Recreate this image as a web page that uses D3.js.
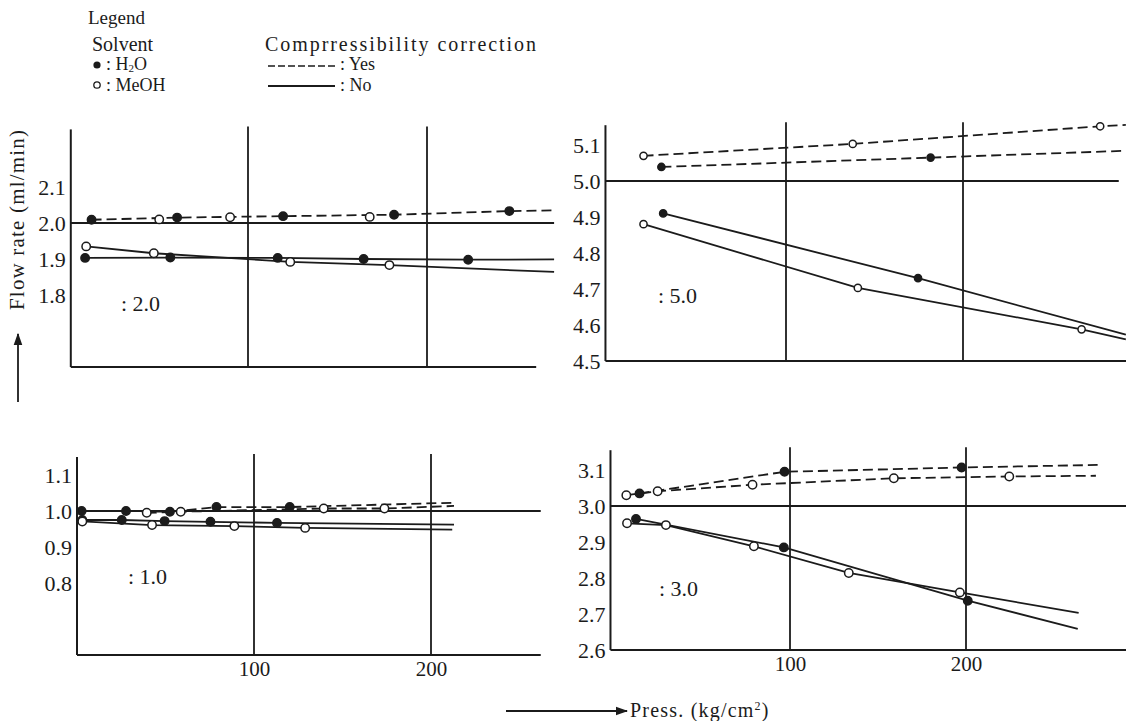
<!DOCTYPE html>
<html><head><meta charset="utf-8">
<script src="https://cdn.jsdelivr.net/npm/d3@7"></script>
<style>
body{margin:0;background:#fff}
svg{display:block}
text{font-family:"Liberation Serif","DejaVu Serif",serif;fill:#1b1b1b}
</style>
</head><body>
<svg id="c" width="1126" height="721"></svg>
<script>
// ---------- DATA ----------
const xTickValues = [100, 200];

// Panel ": 2.0"
const p20Ticks = [2.1, 2.0, 1.9, 1.8];
const p20H2OYes = [[12.6,2.009],[60.4,2.015],[119.6,2.019],[181.6,2.023],[246,2.033]];
const p20H2OYesEnd = [271,2.035];
const p20MeOHYes = [[50.4,2.010],[90,2.016],[168,2.017]];
const p20H2ONo = [[9,1.903],[56.6,1.904],[116.6,1.903],[164.6,1.900],[223,1.898]];
const p20H2ONoEnd = [271,1.899];
const p20MeOHNo = [[9.6,1.935],[47.4,1.916],[123.6,1.892],[179,1.883]];
const p20MeOHNoEnd = [271,1.864];

// Panel ": 5.0"
const p50Ticks = [5.1, 5.0, 4.9, 4.8, 4.7, 4.6, 4.5];
const p50MeOHYes = [[19.5,5.070],[137.7,5.103],[277.5,5.152]];
const p50MeOHYesEnd = [292,5.156];
const p50H2OYes = [[29.6,5.039],[181.7,5.065]];
const p50H2OYesEnd = [292,5.084];
const p50H2ONo = [[30.6,4.910],[174.6,4.730]];
const p50H2ONoEnd = [292,4.573];
const p50MeOHNo = [[19.5,4.880],[140.6,4.703],[267,4.588]];
const p50MeOHNoEnd = [292,4.560];

// Panel ": 1.0"
const p10Ticks = [1.1, 1.0, 0.9, 0.8];
const p10H2OYes = [[2.6,1.000],[27.7,1.000],[52.5,0.998],[78.8,1.011],[120.2,1.011]];
const p10H2OYesEnd = [213,1.023];
const p10MeOHYes = [[39.4,0.995],[58.6,0.998],[139.4,1.007],[173.7,1.007]];
const p10MeOHYesEnd = [213,1.014];
const p10H2ONo = [[3,0.975],[25.3,0.975],[49.5,0.972],[75.4,0.970],[113,0.967]];
const p10H2ONoEnd = [213,0.962];
const p10MeOHNo = [[3,0.971],[42.4,0.961],[88.9,0.958],[128.9,0.953]];
const p10MeOHNoEnd = [212,0.948];

// Panel ": 3.0"
const p30Ticks = [3.1, 3.0, 2.9, 2.8, 2.7, 2.6];
const p30MeOHYes = [[7,3.030],[24.8,3.041],[78.7,3.059],[159,3.077],[224.6,3.082]];
const p30MeOHYesEnd = [273.8,3.084];
const p30H2OYes = [[14.5,3.035],[96.9,3.095],[197.5,3.107]];
const p30H2OYesEnd = [274.8,3.114];
const p30H2ONo = [[12.5,2.964],[96.5,2.885],[201,2.737]];
const p30H2ONoEnd = [263.5,2.659];
const p30MeOHNo = [[7.4,2.952],[29.5,2.947],[79.5,2.888],[133.4,2.814],[196.5,2.760]];
const p30MeOHNoEnd = [264,2.703];

// ---------- LAYOUT ----------
const panels = [
  {label:": 2.0", ref:2.0, ticks:p20Ticks, xLabels:false,
   x0:69, k100:179, yRef:223, vTop:2.26, vBot:1.6, axisV:1, xEndV:261, refEndV:271,
   labelX:121, labelY:311,
   series:[
     {pts:p20H2OYes, end:p20H2OYesEnd, dash:true, filled:true},
     {pts:p20MeOHYes, end:null, dash:true, filled:false, noLine:true},
     {pts:p20H2ONo, end:p20H2ONoEnd, dash:false, filled:true},
     {pts:p20MeOHNo, end:p20MeOHNoEnd, dash:false, filled:false}]},
  {label:": 5.0", ref:5.0, ticks:p50Ticks, xLabels:false,
   x0:609, k100:177, yRef:181, vTop:5.155, vBot:4.5, axisV:-2, xEndV:295, refEndV:288,
   labelX:658, labelY:303, r:3.6,
   series:[
     {pts:p50MeOHYes, end:p50MeOHYesEnd, dash:true, filled:false},
     {pts:p50H2OYes, end:p50H2OYesEnd, dash:true, filled:true},
     {pts:p50H2ONo, end:p50H2ONoEnd, dash:false, filled:true},
     {pts:p50MeOHNo, end:p50MeOHNoEnd, dash:false, filled:false}]},
  {label:": 1.0", ref:1.0, ticks:p10Ticks, xLabels:true,
   x0:77, k100:177, yRef:511, vTop:1.15, vBot:0.6, axisV:0, xEndV:262, refEndV:262,
   labelX:128, labelY:584,
   series:[
     {pts:p10H2OYes, end:p10H2OYesEnd, dash:true, filled:true},
     {pts:p10MeOHYes, end:p10MeOHYesEnd, dash:true, filled:false},
     {pts:p10H2ONo, end:p10H2ONoEnd, dash:false, filled:true},
     {pts:p10MeOHNo, end:p10MeOHNoEnd, dash:false, filled:false}]},
  {label:": 3.0", ref:3.0, ticks:p30Ticks, xLabels:true,
   x0:614, k100:176, yRef:506, vTop:3.155, vBot:2.6, axisV:-2, xEndV:292, refEndV:292,
   labelX:659, labelY:596,
   series:[
     {pts:p30MeOHYes, end:p30MeOHYesEnd, dash:true, filled:false},
     {pts:p30H2OYes, end:p30H2OYesEnd, dash:true, filled:true},
     {pts:p30H2ONo, end:p30H2ONoEnd, dash:false, filled:true},
     {pts:p30MeOHNo, end:p30MeOHNoEnd, dash:false, filled:false}]}
];

const ink = "#1b1b1b";
const svg = d3.select("#c");

svg.append("defs").append("marker")
  .attr("id","arr").attr("viewBox","0 0 10 10").attr("refX",9).attr("refY",5)
  .attr("markerWidth",7).attr("markerHeight",7).attr("orient","auto")
  .append("path").attr("d","M0,1.5L10,5L0,8.5Z").attr("fill",ink);

panels.forEach(p => {
  const x = d3.scaleLinear().domain([0,100]).range([p.x0, p.x0 + p.k100]);
  const y = d3.scaleLinear().domain([p.ref, p.ref + 0.1]).range([p.yRef, p.yRef - 36]);
  const g = svg.append("g");
  const ax = x(p.axisV), yb = y(p.vBot), yt = y(p.vTop);

  g.append("line").attr("x1",ax).attr("x2",ax).attr("y1",yt).attr("y2",yb)
    .attr("stroke",ink).attr("stroke-width",2);
  g.append("line").attr("x1",ax).attr("x2",x(p.xEndV)).attr("y1",yb).attr("y2",yb)
    .attr("stroke",ink).attr("stroke-width",2);
  xTickValues.forEach(v => {
    g.append("line").attr("x1",x(v)).attr("x2",x(v)).attr("y1",yt - 3).attr("y2",yb)
      .attr("stroke",ink).attr("stroke-width",1.8);
  });
  g.append("line").attr("x1",ax).attr("x2",x(p.refEndV)).attr("y1",y(p.ref)).attr("y2",y(p.ref))
    .attr("stroke",ink).attr("stroke-width",1.8);

  const ya = g.append("g").attr("transform",`translate(${ax},0)`)
    .call(d3.axisLeft(y).tickValues(p.ticks).tickSize(0).tickPadding(5).tickFormat(d3.format(".1f")));
  ya.select(".domain").remove();
  ya.selectAll("text").attr("font-size",22).attr("font-family",null).attr("fill",ink);

  if (p.xLabels) {
    const xa = g.append("g").attr("transform",`translate(0,${yb})`)
      .call(d3.axisBottom(x).tickValues(xTickValues).tickSize(0).tickPadding(6).tickFormat(d3.format("d")));
    xa.select(".domain").remove();
    xa.selectAll("text").attr("font-size",21).attr("font-family",null).attr("fill",ink);
  }

  g.append("text").attr("x",p.labelX).attr("y",p.labelY).attr("font-size",22).text(p.label);

  const line = d3.line().x(d => x(d[0])).y(d => y(d[1]));
  p.series.forEach(s => {
    if (!s.noLine) {
      const data = s.end ? s.pts.concat([s.end]) : s.pts;
      g.append("path").attr("d", line(data)).attr("fill","none")
        .attr("stroke",ink).attr("stroke-width",1.8)
        .attr("stroke-dasharray", s.dash ? "10,5" : null);
    }
  });
  p.series.forEach(s => {
    g.selectAll(null).data(s.pts).enter().append("circle")
      .attr("cx", d => x(d[0])).attr("cy", d => y(d[1]))
      .attr("r", p.r || 4.2)
      .attr("fill", s.filled ? ink : "#fff")
      .attr("stroke", ink).attr("stroke-width", 1.5);
  });
});

// ---------- LEGEND ----------
const lg = svg.append("g");
lg.append("text").attr("x",88).attr("y",24).attr("font-size",19).text("Legend");
lg.append("text").attr("x",92).attr("y",51).attr("font-size",20).text("Solvent");
lg.append("text").attr("x",265).attr("y",51).attr("font-size",20).attr("textLength",271).text("Comprressibility correction");
lg.append("circle").attr("cx",97).attr("cy",65).attr("r",3.6).attr("fill",ink);
const t1 = lg.append("text").attr("x",106).attr("y",70).attr("font-size",18);
t1.append("tspan").text(": H");
t1.append("tspan").attr("font-size",11).attr("dy",2).text("2");
t1.append("tspan").attr("dy",-2).text("O");
lg.append("circle").attr("cx",97).attr("cy",85).attr("r",3.2).attr("fill","#fff").attr("stroke",ink).attr("stroke-width",1.3);
lg.append("text").attr("x",106).attr("y",91).attr("font-size",18).text(": MeOH");
lg.append("line").attr("x1",268).attr("x2",336).attr("y1",66).attr("y2",66)
  .attr("stroke",ink).attr("stroke-width",1.5).attr("stroke-dasharray","7,3");
lg.append("text").attr("x",340).attr("y",70).attr("font-size",18).text(": Yes");
lg.append("line").attr("x1",268).attr("x2",335).attr("y1",86).attr("y2",86)
  .attr("stroke",ink).attr("stroke-width",1.8);
lg.append("text").attr("x",340).attr("y",91).attr("font-size",18).text(": No");

// ---------- AXIS TITLES ----------
svg.append("text").attr("transform","translate(24,220) rotate(-90)")
  .attr("text-anchor","middle").attr("font-size",21).attr("textLength",180)
  .text("Flow rate (ml/min)");
svg.append("line").attr("x1",18).attr("x2",18).attr("y1",402).attr("y2",334)
  .attr("stroke",ink).attr("stroke-width",1.8).attr("marker-end","url(#arr)");
svg.append("line").attr("x1",506).attr("x2",627).attr("y1",711).attr("y2",711)
  .attr("stroke",ink).attr("stroke-width",1.8).attr("marker-end","url(#arr)");
const xt = svg.append("text").attr("x",630).attr("y",717).attr("font-size",20).attr("letter-spacing",1.2);
xt.append("tspan").text("Press. (kg/cm");
xt.append("tspan").attr("font-size",12).attr("dy",-7).text("2");
xt.append("tspan").attr("dy",7).text(")");
</script>
</body></html>
